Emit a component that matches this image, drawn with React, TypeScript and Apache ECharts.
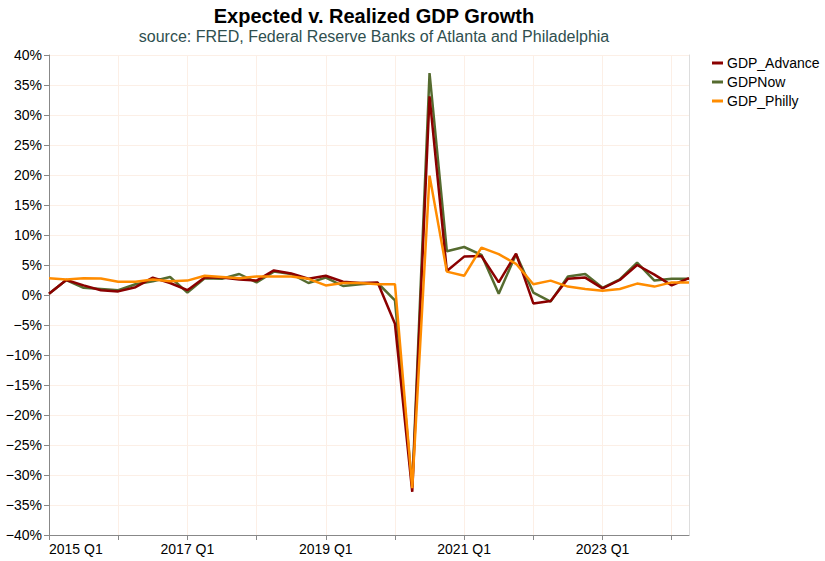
import React, { useEffect, useRef } from "react";
import * as echarts from "echarts";

const quarters: string[] = [];
for (let y = 2015; y <= 2024; y++) {
  for (let q = 1; q <= 4; q++) {
    if (y === 2024 && q > 2) break;
    quarters.push(`${y} Q${q}`);
  }
}

const gdpAdvance = [0.2, 2.5, 1.6, 0.8, 0.6, 1.3, 2.9, 2.0, 0.8, 2.9, 2.9, 2.6, 2.4, 4.1, 3.6, 2.7, 3.2, 2.2, 2.0, 2.1, -4.8, -32.8, 33.1, 4.0, 6.4, 6.5, 2.1, 6.9, -1.4, -1.0, 2.7, 2.9, 1.1, 2.5, 5.0, 3.4, 1.6, 2.8];
const gdpNow = [0.2, 2.5, 1.2, 1.0, 0.8, 1.8, 2.3, 3.0, 0.4, 2.8, 2.7, 3.5, 2.1, 3.9, 3.5, 2.0, 2.9, 1.5, 1.8, 2.0, -0.9, -32.0, 37.0, 7.3, 8.0, 6.7, 0.2, 6.8, 0.4, -1.1, 3.1, 3.5, 1.2, 2.6, 5.4, 2.4, 2.7, 2.7];
const gdpPhilly = [2.8, 2.6, 2.8, 2.75, 2.2, 2.2, 2.6, 2.3, 2.4, 3.2, 3.0, 2.8, 3.1, 3.1, 3.1, 2.7, 1.6, 2.0, 2.0, 1.8, 1.8, -32.2, 19.9, 3.9, 3.2, 7.9, 6.8, 5.2, 1.8, 2.4, 1.4, 1.0, 0.7, 1.0, 1.9, 1.4, 2.1, 2.1];

const FONT = "'Liberation Sans', Arial, Helvetica, sans-serif";
const GRID_COLOR = "#fcefe6";

export default function App() {
  const ref = useRef<HTMLDivElement>(null);
  useEffect(() => {
    if (!ref.current) return;
    const chart = echarts.init(ref.current, undefined, { renderer: "svg" });
    const fmtPct = (v: number) => (v < 0 ? "\u2212" + Math.abs(v) : String(v)) + "%";
    chart.setOption({
      animation: false,
      textStyle: { fontFamily: FONT },
      title: [
        {
          text: "Expected v. Realized GDP Growth",
          left: 369,
          top: 1,
          textAlign: "center",
          textStyle: { fontFamily: FONT, fontSize: 20, fontWeight: "bold", color: "#000" },
        },
        {
          text: "source: FRED, Federal Reserve Banks of Atlanta and Philadelphia",
          left: 369,
          top: 23,
          textAlign: "center",
          textStyle: { fontFamily: FONT, fontSize: 16, fontWeight: "normal", color: "#2f4f4f" },
        },
      ],
      legend: {
        orient: "vertical",
        left: 707,
        top: 51,
        itemGap: 5,
        itemWidth: 11,
        itemHeight: 3,
        icon: "rect",
        data: ["GDP_Advance", "GDPNow", "GDP_Philly"],
        textStyle: { fontFamily: FONT, fontSize: 14, color: "#000", padding: [0, 0, 0, -1] },
      },
      grid: { left: 49, right: 136, top: 55, bottom: 26, containLabel: false },
      xAxis: {
        type: "category",
        data: quarters,
        boundaryGap: false,
        axisLine: { show: true, onZero: false, lineStyle: { color: "#888", width: 1 } },
        axisTick: {
          show: true,
          length: 5,
          lineStyle: { color: "#888" },
          interval: (i: number) => i % 4 === 0,
        },
        axisLabel: {
          interval: (i: number) => i % 8 === 0,
          fontFamily: FONT,
          fontSize: 14,
          color: "#000",
          margin: 7,
          alignMinLabel: "left",
        },
        splitLine: {
          show: true,
          interval: (i: number) => i % 4 === 0,
          lineStyle: { color: GRID_COLOR, width: 1 },
        },
      },
      yAxis: [
        {
          type: "value",
          min: -40,
          max: 40,
          interval: 5,
          axisLine: { show: true, lineStyle: { color: "#888", width: 1 } },
          axisTick: { show: true, length: 5, lineStyle: { color: "#888" } },
          axisLabel: {
            formatter: fmtPct,
            fontFamily: FONT,
            fontSize: 14,
            color: "#000",
            margin: 7,
          },
          splitLine: { show: true, lineStyle: { color: GRID_COLOR, width: 1 } },
        },
        {
          type: "value",
          position: "right",
          min: -40,
          max: 40,
          interval: 5,
          axisLine: { show: true, lineStyle: { color: "#dddddd", width: 1 } },
          axisTick: { show: false },
          axisLabel: { show: false },
          splitLine: { show: false },
        },
      ],
      series: [
        {
          name: "GDPNow",
          type: "line",
          data: gdpNow,
          showSymbol: false,
          symbol: "none",
          lineStyle: { color: "#556b2f", width: 2.5 },
          itemStyle: { color: "#556b2f" },
        },
        {
          name: "GDP_Advance",
          type: "line",
          data: gdpAdvance,
          showSymbol: false,
          symbol: "none",
          lineStyle: { color: "#8b0000", width: 2.5 },
          itemStyle: { color: "#8b0000" },
        },
        {
          name: "GDP_Philly",
          type: "line",
          data: gdpPhilly,
          showSymbol: false,
          symbol: "none",
          lineStyle: { color: "#ff8c00", width: 2.5 },
          itemStyle: { color: "#ff8c00" },
        },
      ],
    });
    return () => chart.dispose();
  }, []);
  return (
    <div
      ref={ref}
      style={{ position: "absolute", left: 0, top: 0, width: 825, height: 561 }}
    />
  );
}
